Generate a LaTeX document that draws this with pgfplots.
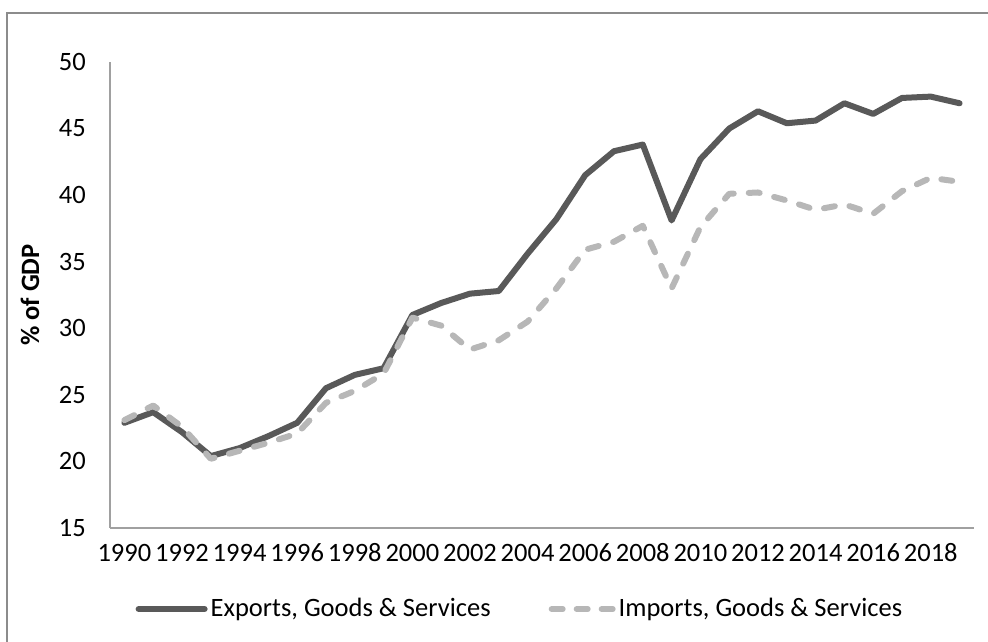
\documentclass[border=0pt]{standalone}
\usepackage{fontspec}
\setmainfont{Carlito}
\usepackage{pgfplots}
\pgfplotsset{compat=1.18}
\definecolor{expc}{HTML}{595959}
\definecolor{impc}{HTML}{B7B7B7}
\definecolor{axc}{HTML}{A0A0A0}
\definecolor{frc}{HTML}{8C8C8C}
\pgfplotsset{
  solidleg/.style={legend image code/.code={\draw[##1] (3pt,0pt) -- (69pt,0pt);}},
  dashleg/.style={legend image code/.code={\draw[##1, dash pattern=on 11pt off 14pt] (3pt,0pt) -- (64pt,0pt);}},
}
\begin{document}
\fontsize{26.5}{31}\selectfont
\begin{tikzpicture}
\useasboundingbox (0pt,0pt) rectangle (988pt,642pt);
\draw[frc, line width=1.5pt] (7pt,0pt) -- (7pt,629pt) -- (988pt,629pt);
\begin{axis}[
  at={(110pt,114pt)}, anchor=south west,
  scale only axis, width=864pt, height=466pt,
  xmin=1989.5, xmax=2019.5, ymin=15, ymax=50,
  ytick={15,20,...,50},
  xtick={1990,1992,...,2018},
  axis lines=left,
  axis line style={-, axc, line width=1.5pt},
  major tick length=0pt,
  /pgf/number format/assume math mode=true,
  xticklabel style={/pgf/number format/1000 sep={}, anchor=base, inner sep=0pt, yshift=-34pt},
  yticklabel style={anchor=east, inner ysep=0pt, inner xsep=24pt},
  tick label style={font=\fontsize{26.5}{31}\selectfont},
  ylabel={\% of GDP},
  ylabel style={font=\fontsize{26.5}{31}\selectfont\bfseries, at={(axis description cs:-0.0926,0.5)}, anchor=center},
  legend columns=2,
  legend style={at={(axis description cs:0.475,-0.174)}, anchor=center, draw=none, fill=none,
    font=\fontsize{26.5}{31}\selectfont,
    /tikz/every even column/.append style={column sep=55pt},
    nodes={inner sep=3pt}},
]
\addplot[expc, line width=6pt, line join=round, line cap=round, solidleg] coordinates {
(1990,22.9) (1991,23.7) (1992,22.2) (1993,20.4) (1994,21.0) (1995,21.9)
(1996,22.9) (1997,25.5) (1998,26.5) (1999,27.0) (2000,31.0) (2001,31.9)
(2002,32.6) (2003,32.8) (2004,35.6) (2005,38.2) (2006,41.5) (2007,43.3)
(2008,43.8) (2009,38.1) (2010,42.7) (2011,45.0) (2012,46.3) (2013,45.4)
(2014,45.6) (2015,46.9) (2016,46.1) (2017,47.3) (2018,47.4) (2019,46.9)
};
\addlegendentry{Exports, Goods \& Services}
\addplot[impc, line width=6pt, line join=round, line cap=round, dash pattern=on 11pt off 15pt, dashleg] coordinates {
(1990,23.1) (1991,24.2) (1992,22.6) (1993,20.2) (1994,20.8) (1995,21.4)
(1996,22.1) (1997,24.4) (1998,25.3) (1999,26.6) (2000,30.8) (2001,30.2)
(2002,28.4) (2003,29.1) (2004,30.5) (2005,33.0) (2006,35.9) (2007,36.5)
(2008,37.7) (2009,33.0) (2010,37.6) (2011,40.1) (2012,40.2) (2013,39.6)
(2014,38.9) (2015,39.3) (2016,38.6) (2017,40.3) (2018,41.3) (2019,41.0)
};
\addlegendentry{Imports, Goods \& Services}
\end{axis}
\end{tikzpicture}
\end{document}
